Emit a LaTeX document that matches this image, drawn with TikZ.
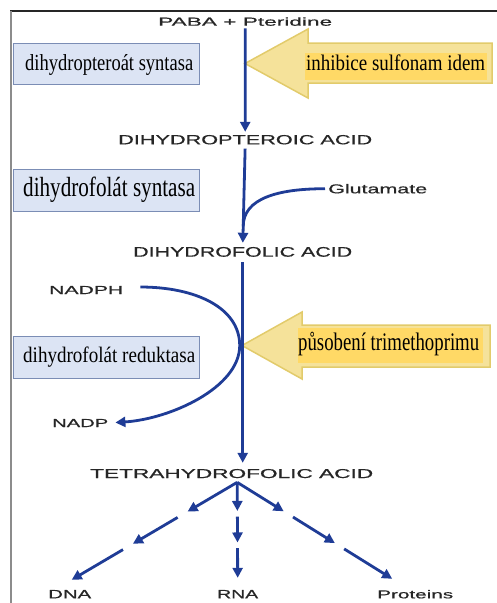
\documentclass[tikz,border=0pt]{standalone}
\usepackage{graphicx}
\usepackage{fontspec}
\setmainfont{Liberation Serif}
\newfontfamily\sansf[FakeBold=0.6]{Liberation Sans}
\usetikzlibrary{arrows.meta,calc}
\definecolor{flowblue}{HTML}{1F3C96}
\definecolor{labgray}{HTML}{262626}
\definecolor{boxfill}{HTML}{DCE4F4}
\definecolor{boxline}{HTML}{7B8DB5}
\definecolor{yfill}{HTML}{F5E29A}
\definecolor{yline}{HTML}{E2CB6B}
\definecolor{hlfill}{HTML}{FFD966}
\newcommand\fitt[3]{\resizebox{#1pt}{#2pt}{#3}}
\tikzset{
  lab/.style={inner sep=0pt, font=\sansf, text=labgray, anchor=base west},
  etext/.style={inner sep=0pt, text=black, anchor=base west},
  ebox/.style={draw=boxline, fill=boxfill, line width=1.2pt, inner sep=0pt, anchor=north west},
  hl/.style={fill=hlfill, inner sep=0pt, anchor=north west},
  yarrow/.style={draw=yline, fill=yfill, line width=1.5pt, line join=miter},
  flowline/.style={draw=flowblue, line width=2.8pt},
  flow/.style={flowline, -{Triangle[length=10pt,width=10pt]}},
}
\begin{document}
\begin{tikzpicture}[x=1pt,y=-1pt]
\useasboundingbox (0,0) rectangle (497,603);
% frame
\draw[black!85, line width=1.3pt] (10,11) -- (497,11);
\draw[black!45, line width=2pt] (11,11) -- (11,603);

% enzyme boxes
\node[ebox, minimum width=186pt, minimum height=41.3pt] (e1) at (13,42.7) {};
\node[etext] (e1t) at (25,70.7) {\fitt{168}{16}{dihydropteroát syntasa}};
\node[ebox, minimum width=186pt, minimum height=42pt] (e2) at (13,169) {};
\node[etext] (e2t) at (23,196) {\fitt{172}{19.5}{dihydrofolát syntasa}};
\node[ebox, minimum width=186pt, minimum height=42pt] (e3) at (13,336) {};
\node[etext] (e3t) at (23,362.7) {\fitt{172}{15.6}{dihydrofolát reduktasa}};

% yellow inhibition arrows
\draw[yarrow] (492,43) -- (308,43) -- (308,29) -- (245,63.5) -- (308,98) -- (308,83) -- (492,83) -- cycle;
\node[hl, minimum width=182pt, minimum height=27pt] (h1) at (305,53) {};
\node[etext] (h1t) at (306,70.7) {\fitt{179}{15.7}{inhibice sulfonam idem}};
\draw[yarrow] (490,325) -- (302,325) -- (302,312) -- (242,345.5) -- (302,379) -- (302,367) -- (490,367) -- cycle;
\node[hl, minimum width=185pt, minimum height=35pt] (h2) at (298,328) {};
\node[etext] (h2t) at (298,350) {\fitt{181}{18.3}{působení trimethoprimu}};

% metabolite labels
\node[lab] (paba) at (158,25.7) {\fitt{174}{8.4}{PABA + Pteridine}};
\node[lab] (dhp) at (118,144.3) {\fitt{254}{9.3}{DIHYDROPTEROIC ACID}};
\node[lab] (glu) at (328,193.3) {\fitt{99}{9.3}{Glutamate}};
\node[lab] (dhf) at (133,256.7) {\fitt{219}{9.7}{DIHYDROFOLIC ACID}};
\node[lab] (nadph) at (49,294) {\fitt{74}{8}{NADPH}};
\node[lab] (nadp) at (52,427) {\fitt{56}{8}{NADP}};
\node[lab] (thf) at (90,478) {\fitt{283}{9}{TETRAHYDROFOLIC ACID}};
\node[lab] (dna) at (48,598.3) {\fitt{43}{8.3}{DNA}};
\node[lab] (rna) at (217,598.3) {\fitt{41}{8.3}{RNA}};
\node[lab] (prot) at (377,598.3) {\fitt{76}{8.3}{Proteins}};

% main pathway
\draw[flow, shorten <=2.3pt, shorten >=3pt] (paba.south) -- (dhp.north);
\draw[flow, shorten <=4pt, shorten >=4pt] (dhp.south) -- (dhf.north);
\coordinate (gj) at ($(dhp.south)!0.8!(dhf.north)$);
\draw[flowline, shorten <=3pt] (glu.west) .. controls +(-50,0) and +(0,-28) .. (gj);
\draw[flow, shorten <=5pt, shorten >=6pt] (dhf.south) -- (dhf.south |- thf.north);

% NADPH -> NADP
\coordinate (np) at ($(nadph.east)+(17,-3)$);
\coordinate (tp) at ($(dhf.south)+(-3,88.5)$);
\draw[flow, shorten >=7pt] (np) .. controls +(55,0) and +(0,-38) .. (tp)
  .. controls +(0,42) and +(62,-4) .. (nadp.east);

% branches
\coordinate (s) at ($(thf.south)+(5.5,4)$);
\coordinate (eD) at ($(dna.north)+(2,-10)$);
\coordinate (eR) at ($(rna.north)+(0,-12)$);
\coordinate (eP) at ($(prot.north)+(-23,-11)$);
\foreach \e in {eD,eR,eP}{
  \draw[flow] (s) -- ($(s)!0.3!(\e)$);
  \draw[flow] ($(s)!0.36!(\e)$) -- ($(s)!0.63!(\e)$);
  \draw[flow] ($(s)!0.69!(\e)$) -- (\e);
}
\end{tikzpicture}
\end{document}
